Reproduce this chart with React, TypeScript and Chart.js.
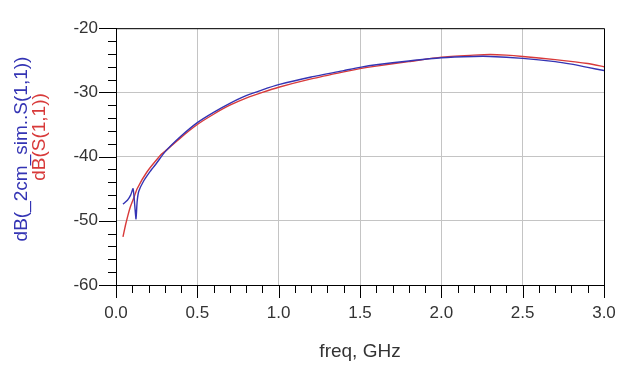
import { useEffect, useRef } from "react";
import { Chart, registerables } from "chart.js";

Chart.register(...registerables);

// --- data ---
const blueName = "dB(_2cm_sim..S(1,1))";
const redName = "dB(S(1,1))";
const xTitle = "freq, GHz";

const blueFreq = [0.043, 0.07, 0.09, 0.105, 0.115, 0.123, 0.13, 0.14, 0.17, 0.21, 0.25, 0.3, 0.4, 0.5, 0.6, 0.7, 0.8, 0.9, 1.0, 1.2, 1.4, 1.5, 1.6, 1.8, 2.0, 2.2, 2.3, 2.5, 2.7, 2.8, 2.9, 3.0];
const blueDb = [-47.4, -46.8, -46.0, -45.0, -47.5, -49.7, -47.0, -45.4, -43.8, -42.3, -41.0, -39.3, -36.8, -34.7, -33.1, -31.7, -30.5, -29.6, -28.8, -27.6, -26.6, -26.1, -25.7, -25.1, -24.6, -24.4, -24.4, -24.7, -25.2, -25.6, -26.1, -26.6];

const redFreq = [0.043, 0.06, 0.086, 0.11, 0.13, 0.19, 0.28, 0.3, 0.4, 0.5, 0.6, 0.7, 0.8, 0.9, 1.0, 1.2, 1.4, 1.5, 1.6, 1.8, 2.0, 2.2, 2.3, 2.4, 2.5, 2.7, 2.9, 3.0];
const redDb = [-52.5, -50.5, -48.0, -46.4, -45.0, -42.4, -39.6, -39.2, -37.0, -35.0, -33.4, -32.0, -30.9, -30.0, -29.2, -27.9, -26.8, -26.3, -25.9, -25.2, -24.5, -24.2, -24.1, -24.2, -24.4, -24.9, -25.5, -26.0];

const xMin = 0;
const xMax = 3;
const xMajorStep = 0.5;
const xMinorStep = 0.1;
const yMin = -60;
const yMax = -20;
const yMajorStep = 10;
const yMinorStep = 2;

const BLUE = "#3434b4";
const RED = "#d83a3a";
const FONT = "'Liberation Sans', Arial, sans-serif";

const framePlugin = {
  id: "adsFrame",
  afterDraw(chart: any) {
    const { ctx, chartArea } = chart;
    const xs = chart.scales.x;
    const ys = chart.scales.y;
    const { left, right, top, bottom } = chartArea;
    ctx.save();
    ctx.strokeStyle = "#000";
    ctx.lineWidth = 1;
    // frame
    ctx.beginPath();
    ctx.moveTo(left, top + 0.5);
    ctx.lineTo(right + 0.5, top + 0.5);
    ctx.lineTo(right + 0.5, bottom);
    ctx.stroke();
    // y ticks (left, outward)
    for (let v = yMin; v <= yMax + 1e-9; v += yMinorStep) {
      const major = Math.abs(v % yMajorStep) < 1e-6;
      const y = Math.round(ys.getPixelForValue(v)) + 0.5;
      ctx.beginPath();
      ctx.moveTo(left, y);
      ctx.lineTo(left - (major ? 17 : 8), y);
      ctx.stroke();
    }
    // x ticks (down, outward)
    const n = Math.round((xMax - xMin) / xMinorStep);
    for (let i = 0; i <= n; i++) {
      const v = xMin + i * xMinorStep;
      const major = i % Math.round(xMajorStep / xMinorStep) === 0;
      const x = Math.round(xs.getPixelForValue(v)) + 0.5;
      ctx.beginPath();
      ctx.moveTo(x, bottom);
      ctx.lineTo(x, bottom + (major ? 13 : 8));
      ctx.stroke();
    }
    // y axis titles (two colours)
    ctx.font = `19px ${FONT}`;
    ctx.textAlign = "center";
    ctx.textBaseline = "middle";
    ctx.save();
    ctx.translate(22, 149);
    ctx.rotate(-Math.PI / 2);
    ctx.fillStyle = BLUE;
    ctx.fillText(blueName, 0, 0);
    ctx.restore();
    ctx.save();
    ctx.translate(40, 137);
    ctx.rotate(-Math.PI / 2);
    ctx.fillStyle = RED;
    ctx.fillText(redName, 0, 0);
    ctx.restore();
    ctx.restore();
  },
};

export default function App() {
  const ref = useRef<HTMLCanvasElement | null>(null);
  useEffect(() => {
    if (!ref.current) return;
    const chart = new Chart(ref.current, {
      type: "line",
      data: {
        datasets: [
          {
            label: blueName,
            data: blueFreq.map((f, i) => ({ x: f, y: blueDb[i] })),
            borderColor: BLUE,
            borderWidth: 1.4,
            pointRadius: 0,
            tension: 0.2,
            fill: false,
          },
          {
            label: redName,
            data: redFreq.map((f, i) => ({ x: f, y: redDb[i] })),
            borderColor: RED,
            borderWidth: 1.4,
            pointRadius: 0,
            tension: 0.2,
            fill: false,
          },
        ],
      },
      options: {
        animation: false,
        responsive: false,
        layout: { padding: { left: 0, right: 36, top: 24, bottom: 0 } },
        plugins: { legend: { display: false }, tooltip: { enabled: false } },
        scales: {
          x: {
            type: "linear",
            min: xMin,
            max: xMax,
            afterFit: (s: any) => {
              s.height = 89;
            },
            ticks: {
              stepSize: xMajorStep,
              padding: 18,
              color: "#333",
              font: { family: FONT, size: 17 },
              callback: (v: any) => Number(v).toFixed(1),
            },
            grid: { color: "#c4c4c4", lineWidth: 1, drawTicks: false },
            border: { display: true, color: "#000", width: 1 },
            title: {
              display: true,
              text: xTitle,
              color: "#333",
              font: { family: FONT, size: 19 },
              padding: { top: 0, bottom: 11 },
            },
          },
          y: {
            type: "linear",
            min: yMin,
            max: yMax,
            afterFit: (s: any) => {
              s.width = 116;
            },
            ticks: {
              stepSize: yMajorStep,
              padding: 18,
              color: "#333",
              font: { family: FONT, size: 17 },
            },
            grid: { color: "#c4c4c4", lineWidth: 1, drawTicks: false },
            border: { display: true, color: "#000", width: 1 },
          },
        },
      },
      plugins: [framePlugin],
    } as any);
    return () => chart.destroy();
  }, []);
  return (
    <div style={{ position: "fixed", left: 0, top: 0, width: 640, height: 374, background: "#fff" }}>
      <canvas ref={ref} width={640} height={374} style={{ display: "block" }} />
    </div>
  );
}
